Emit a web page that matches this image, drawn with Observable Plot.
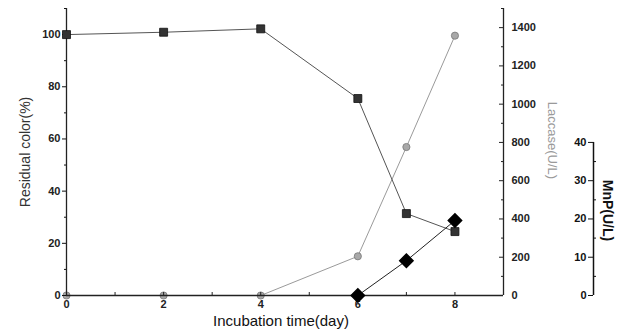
<!DOCTYPE html>
<html>
<head>
<meta charset="utf-8">
<script src="https://cdn.jsdelivr.net/npm/d3@7"></script>
<script src="https://cdn.jsdelivr.net/npm/@observablehq/plot@0.6"></script>
<style>
  html, body { margin: 0; padding: 0; background: #fff; }
  #chart { position: relative; width: 624px; height: 335px; }
  #chart svg { position: absolute; left: 0; top: 0; background: transparent !important; }
</style>
</head>
<body>
<div id="chart"></div>
<script>
// ---- data ----
const days = [0, 2, 4, 6, 7, 8];
const residualColor = [100, 100.9, 102.2, 75.5, 31.4, 24.5];
const laccase = [0, 0, 0, 205, 776, 1358];
const mnpDays = [6, 7, 8];
const mnp = [0, 9.1, 19.6];

const xTickLabels = [0, 2, 4, 6, 8];
const xMinorTicks = [0, 1, 2, 3, 4, 5, 6, 7, 8];
const leftTicks = [0, 20, 40, 60, 80, 100];
const leftMinor = [10, 30, 50, 70, 90, 110];
const laccaseTicks = [0, 200, 400, 600, 800, 1000, 1200, 1400];
const laccaseMinor = [100, 300, 500, 700, 900, 1100, 1300, 1500];
const mnpTicks = [0, 10, 20, 30, 40];
const mnpMinor = [5, 15, 25, 35];

const resData = days.map((d, i) => ({day: d, v: residualColor[i]}));
const lacData = days.map((d, i) => ({day: d, v: laccase[i]}));
const mnpData = mnpDays.map((d, i) => ({day: d, v: mnp[i]}));

// ---- layout ----
const W = 624, H = 335;
const mL = 66, mR = 121, mT = 8, mB = 40;
const frameW = W - mL - mR;   // 437
const frameH = H - mT - mB;   // 287
const mnpShift = 527;         // MnP axis offset from left frame edge
const plain = d => String(d);

const base = {
  width: W, height: H,
  marginLeft: mL, marginRight: mR, marginTop: mT, marginBottom: mB,
  style: {fontFamily: "Liberation Sans, Arial, sans-serif", fontSize: "11px", color: "#111", background: "transparent", overflow: "visible"},
  x: {domain: [0, 9], axis: null}
};

// Plot 1: residual color (left axis) + x axis
const p1 = Plot.plot({
  ...base,
  y: {domain: [0, 110], axis: null},
  marks: [
    Plot.ruleX([0], {stroke: "#222", strokeWidth: 1.3}),
    Plot.ruleY([0], {stroke: "#222", strokeWidth: 1.3}),
    Plot.axisY({ticks: leftTicks, tickSize: 4, tickPadding: 2, tickFormat: plain, fontWeight: "bold", fill: "#222", label: null}),
    Plot.axisY({ticks: leftMinor, tickSize: 2, text: null, label: null}),
    Plot.tickX(xMinorTicks, {x: d => d, insetTop: frameH - 3, stroke: "#222"}),
    Plot.axisX({ticks: xTickLabels, tickSize: 0, tickPadding: 5, tickFormat: plain, fontWeight: "bold", fill: "#222", label: null}),
    Plot.text(["Residual color(%)"], {frameAnchor: "left", textAnchor: "middle", dx: -41, rotate: -90, fontSize: 14, fill: "#333"}),
    Plot.text(["Incubation time(day)"], {frameAnchor: "bottom", textAnchor: "middle", dy: 30, dx: -4, fontSize: 15, fill: "#111"}),
    Plot.line(resData, {x: "day", y: "v", stroke: "#555", strokeWidth: 1}),
    Plot.dot(resData, {x: "day", y: "v", symbol: "square", r: 4.5, fill: "#333", stroke: "#111", strokeWidth: 0.8})
  ]
});

// Plot 2: laccase (right axis)
const p2 = Plot.plot({
  ...base,
  y: {domain: [0, 1500], axis: null},
  marks: [
    Plot.ruleX([9], {stroke: "#222", strokeWidth: 1.3}),
    Plot.tickY(laccaseTicks, {y: d => d, insetLeft: frameW - 4, stroke: "#222"}),
    Plot.tickY(laccaseMinor, {y: d => d, insetLeft: frameW - 2, stroke: "#222"}),
    Plot.axisY({anchor: "right", ticks: laccaseTicks, tickSize: 0, tickPadding: 8, tickFormat: plain, fontWeight: "bold", fill: "#222", label: null}),
    Plot.text(["Laccase(U/L)"], {frameAnchor: "top-right", textAnchor: "middle", dx: 54, dy: 132, rotate: 90, fontSize: 13, fill: "#9a9a9a"}),
    Plot.line(lacData, {x: "day", y: "v", stroke: "#9a9a9a", strokeWidth: 1}),
    Plot.dot(lacData, {x: "day", y: "v", symbol: "circle", r: 3.6, fill: "#a8a8a8", stroke: "#777", strokeWidth: 0.8})
  ]
});

// Plot 3: MnP (detached right axis)
const p3 = Plot.plot({
  ...base,
  y: {domain: [0, 75], axis: null},
  marks: [
    Plot.ruleX([0], {y1: 0, y2: 40, dx: mnpShift, stroke: "#111", strokeWidth: 1.5}),
    Plot.axisY({ticks: mnpTicks, tickSize: 5, tickPadding: 2, tickFormat: plain, dx: mnpShift, fontWeight: "bold", fill: "#111", label: null}),
    Plot.tickY(mnpMinor, {y: d => d, dx: mnpShift, insetRight: frameW - 3, stroke: "#111"}),
    Plot.text(["MnP(U/L)"], {frameAnchor: "top-right", textAnchor: "middle", dx: 109, dy: 202, rotate: 90, fontSize: 14, fontWeight: "bold", fill: "#111"}),
    Plot.line(mnpData, {x: "day", y: "v", stroke: "#222", strokeWidth: 1}),
    Plot.dot(mnpData, {x: "day", y: "v", symbol: "diamond2", r: 6, fill: "#000", stroke: "#000"})
  ]
});

const c = document.getElementById("chart");
c.append(p2, p1, p3);
</script>
</body>
</html>
